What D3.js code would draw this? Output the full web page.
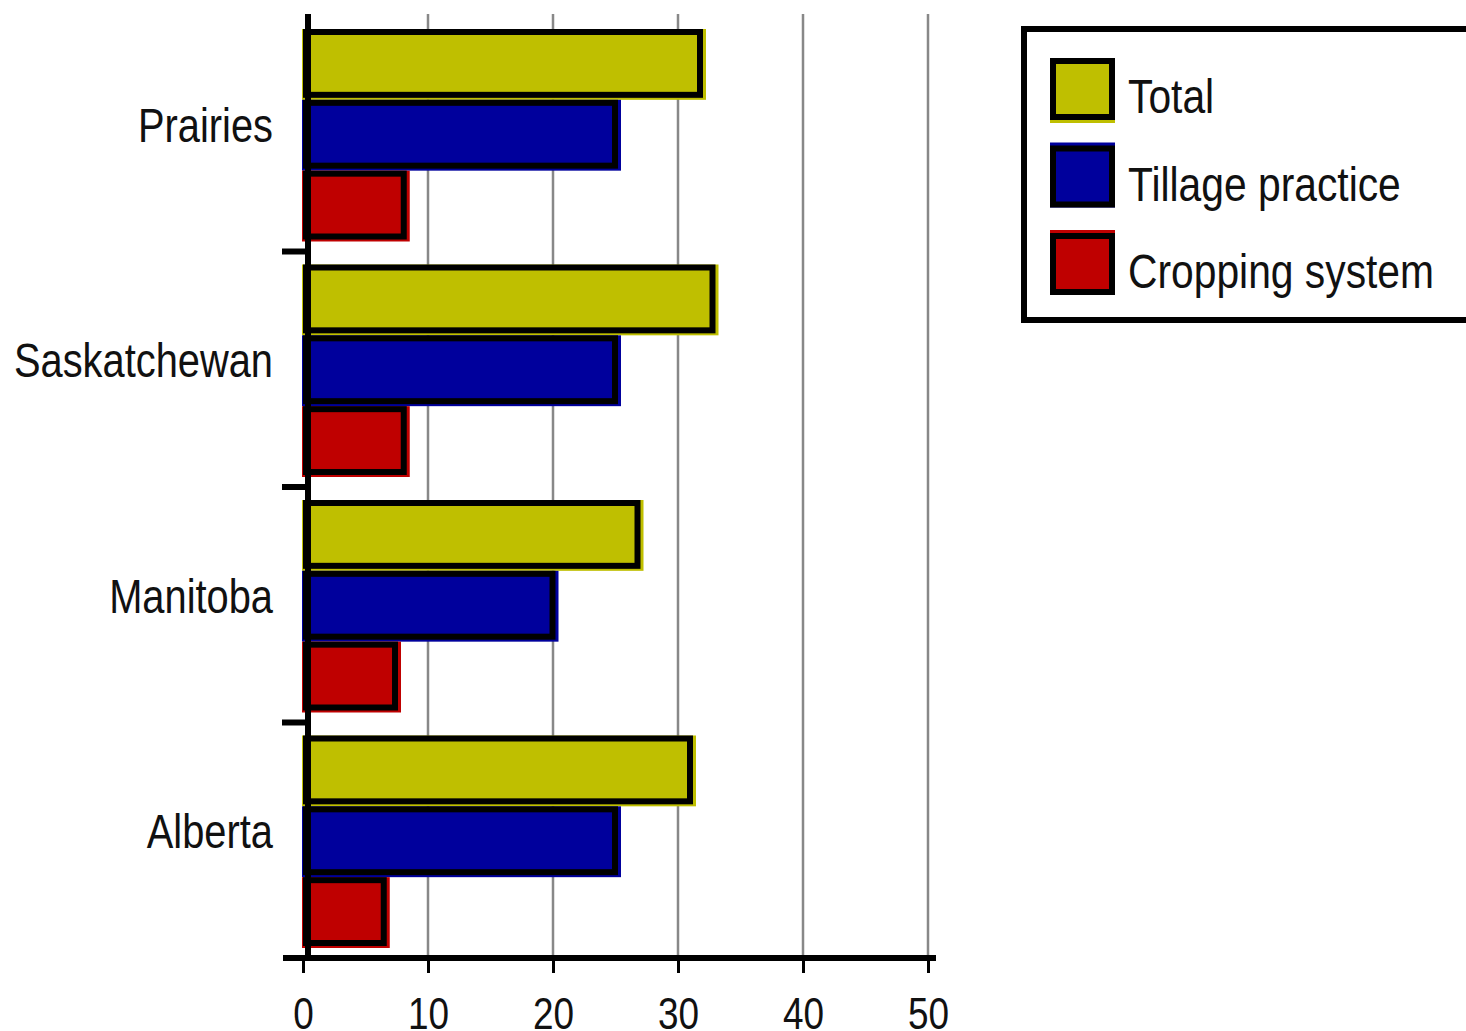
<!DOCTYPE html>
<html>
<head>
<meta charset="utf-8">
<script src="https://cdn.jsdelivr.net/npm/d3@7"></script>
<style>
  body { margin: 0; background: #fff; }
  svg { display: block; }
  text { font-family: "Liberation Sans", Arial, sans-serif; fill: #111; }
</style>
</head>
<body>
<div id="chart"></div>
<script>
// Data
let regions = ['Prairies', 'Saskatchewan', 'Manitoba', 'Alberta'];
let seriesNames = ['Total', 'Tillage practice', 'Cropping system'];
let totalValues = [32, 33, 27, 31.2];
let tillageValues = [25.2, 25.2, 20.2, 25.2];
let croppingValues = [8.3, 8.3, 7.6, 6.7];
let xTicks = [0, 10, 20, 30, 40, 50];

let seriesColor = ['#bfbf00', '#00009c', '#bf0000'];
let seriesValues = [totalValues, tillageValues, croppingValues];

let width = 1466, height = 1031;
// the original font is a tall, narrow one: squeeze Liberation Sans horizontally
let squeeze = 0.83;

let svg = d3.select('#chart')
    .append('svg')
    .attr('width', width)
    .attr('height', height);

// Scales
let x = d3.scaleLinear()
    .domain([0, 50])
    .range([303, 928]);

let y = d3.scaleBand()
    .domain(regions)
    .range([16, 958]);

let ySub = d3.scaleBand()
    .domain(seriesNames)
    .range([13, y.bandwidth() - 10]);

// Gridlines
svg.append('g')
    .selectAll('line')
    .data(xTicks.filter(d => d > 0))
    .enter()
    .append('line')
    .attr('x1', d => x(d)).attr('x2', d => x(d))
    .attr('y1', 14).attr('y2', 958)
    .attr('stroke', '#888')
    .attr('stroke-width', 2.5);

// Bars
let barData = [];
regions.forEach(function(r, i) {
    seriesNames.forEach(function(s, j) {
        barData.push({ region: r, series: s, value: seriesValues[j][i], color: seriesColor[j] });
    });
});

let bars = svg.append('g').selectAll('g').data(barData).enter().append('g');

// coloured underlay, shifted a little like the original rendering
bars.append('rect')
    .attr('x', x(0) - 1)
    .attr('y', d => y(d.region) + ySub(d.series))
    .attr('width', d => x(d.value) - x(0) + 4)
    .attr('height', ySub.bandwidth())
    .attr('fill', d => d.color);

// black-outlined bar
bars.append('rect')
    .attr('x', x(0) + 3)
    .attr('y', d => y(d.region) + ySub(d.series) + 3)
    .attr('width', d => x(d.value) - x(0) - 6)
    .attr('height', ySub.bandwidth() - 8)
    .attr('fill', d => d.color)
    .attr('stroke', '#000')
    .attr('stroke-width', 6);

// Y axis line
svg.append('line')
    .attr('x1', 308).attr('x2', 308)
    .attr('y1', 14).attr('y2', 961)
    .attr('stroke', '#000')
    .attr('stroke-width', 6);

// Category separators
svg.append('g')
    .selectAll('line')
    .data(regions.slice(1))
    .enter()
    .append('line')
    .attr('x1', 282).attr('x2', 308)
    .attr('y1', d => y(d)).attr('y2', d => y(d))
    .attr('stroke', '#000')
    .attr('stroke-width', 6);

// Category labels
svg.append('g')
    .selectAll('text')
    .data(regions)
    .enter()
    .append('text')
    .attr('transform', d => 'translate(273,' + (y(d) + y.bandwidth() / 2 + 8) + ') scale(' + squeeze + ',1)')
    .attr('text-anchor', 'end')
    .attr('font-size', '48px')
    .text(d => d);

// X axis
let xAxis = svg.append('g')
    .attr('transform', 'translate(0,958)')
    .call(d3.axisBottom(x).tickValues(xTicks).tickSize(15).tickSizeOuter(0).tickPadding(25));

xAxis.select('.domain').remove();
xAxis.selectAll('.tick line').attr('stroke', '#000').attr('stroke-width', 3);
xAxis.selectAll('.tick text')
    .attr('font-size', '44px')
    .attr('font-family', null)
    .attr('transform', 'scale(0.84,1)')
    .attr('fill', '#111');

svg.append('line')
    .attr('x1', 283).attr('x2', 936)
    .attr('y1', 958).attr('y2', 958)
    .attr('stroke', '#000')
    .attr('stroke-width', 6);

// Legend
let legend = svg.append('g');

legend.append('rect')
    .attr('x', 1024).attr('y', 29)
    .attr('width', 460).attr('height', 291)
    .attr('fill', '#fff')
    .attr('stroke', '#000')
    .attr('stroke-width', 6);

let legendRow = legend.selectAll('g.row')
    .data(seriesNames)
    .enter()
    .append('g')
    .attr('class', 'row')
    .attr('transform', (d, i) => 'translate(1050,' + (58 + i * 87.5) + ')');

legendRow.append('rect')
    .attr('x', 0)
    .attr('y', (d, i) => i === 0 ? 0 : -3)
    .attr('width', 65).attr('height', 65)
    .attr('fill', (d, i) => seriesColor[i]);

legendRow.append('rect')
    .attr('x', 3).attr('y', 3)
    .attr('width', 59).attr('height', 56)
    .attr('fill', (d, i) => seriesColor[i])
    .attr('stroke', '#000')
    .attr('stroke-width', 6);

legendRow.append('text')
    .attr('transform', 'translate(78,55) scale(0.85,1)')
    .attr('font-size', '48px')
    .text(d => d);
</script>
</body>
</html>
